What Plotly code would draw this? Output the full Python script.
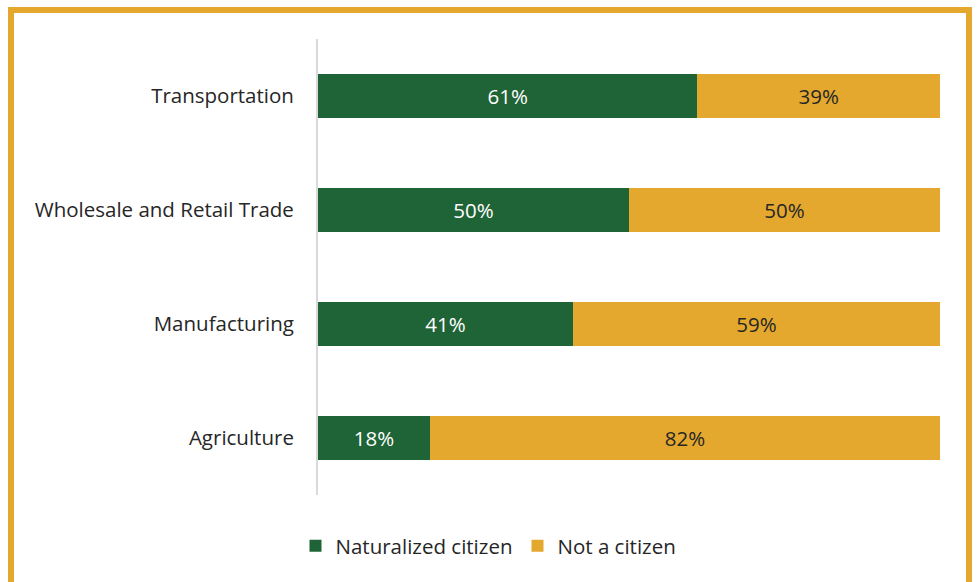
import plotly.graph_objects as go

categories = ["Agriculture", "Manufacturing", "Wholesale and Retail Trade", "Transportation"]
naturalized = [18, 41, 50, 61]
not_citizen = [82, 59, 50, 39]
series_names = ["Naturalized citizen", "Not a citizen"]

GREEN = "#1F6437"
GOLD = "#E3A82D"
FONT = "Open Sans"
FS = 20.5

fig = go.Figure()
fig.add_trace(go.Bar(
    y=categories, x=naturalized, orientation="h", name=series_names[0],
    marker=dict(color=GREEN, line=dict(width=0)),
    text=[f"{v}%" for v in naturalized], textposition="inside",
    insidetextanchor="middle",
    textfont=dict(color="white", size=FS, family=FONT),
))
fig.add_trace(go.Bar(
    y=categories, x=not_citizen, orientation="h", name=series_names[1],
    marker=dict(color=GOLD, line=dict(width=0)),
    text=[f"{v}%" for v in not_citizen], textposition="inside",
    insidetextanchor="middle",
    textfont=dict(color="#262626", size=FS, family=FONT),
))

fig.update_layout(
    width=977, height=582,
    barmode="stack", bargap=0.614,
    margin=dict(l=318, r=37, t=39, b=87),
    paper_bgcolor="white", plot_bgcolor="white",
    font=dict(family=FONT, size=FS, color="#262626"),
    showlegend=True,
    legend=dict(orientation="h", xref="container", x=0.5, xanchor="center",
                yref="container", y=(582 - 546) / 582, yanchor="middle",
                font=dict(size=FS, color="#262626", family=FONT),
                itemwidth=30, traceorder="normal"),
    xaxis=dict(range=[0, 100], showgrid=False, showticklabels=False,
               zeroline=False, showline=False, fixedrange=True),
    yaxis=dict(categoryorder="array", categoryarray=categories,
               range=[-0.5, 3.5], fixedrange=True,
               showline=True, linecolor="#D9D9D9", linewidth=2,
               showgrid=False, zeroline=False,
               ticks="outside", ticklen=18, tickcolor="rgba(0,0,0,0)",
               tickfont=dict(size=FS, color="#262626", family=FONT)),
)

# golden frame around the whole chart (in paper coordinates)
pw, ph = 977 - 318 - 37, 582 - 39 - 87
def px(x):
    return (x - 318) / pw
def py(y):
    return (582 - 87 - y) / ph
fig.add_shape(type="rect", xref="paper", yref="paper",
              x0=px(11), x1=px(969), y0=py(585), y1=py(10),
              line=dict(color=GOLD, width=6), fillcolor="rgba(0,0,0,0)",
              layer="below")

fig.write_html("out.html", config={"displayModeBar": False},
               post_script="document.body.style.margin='0';document.body.style.overflow='hidden';")
